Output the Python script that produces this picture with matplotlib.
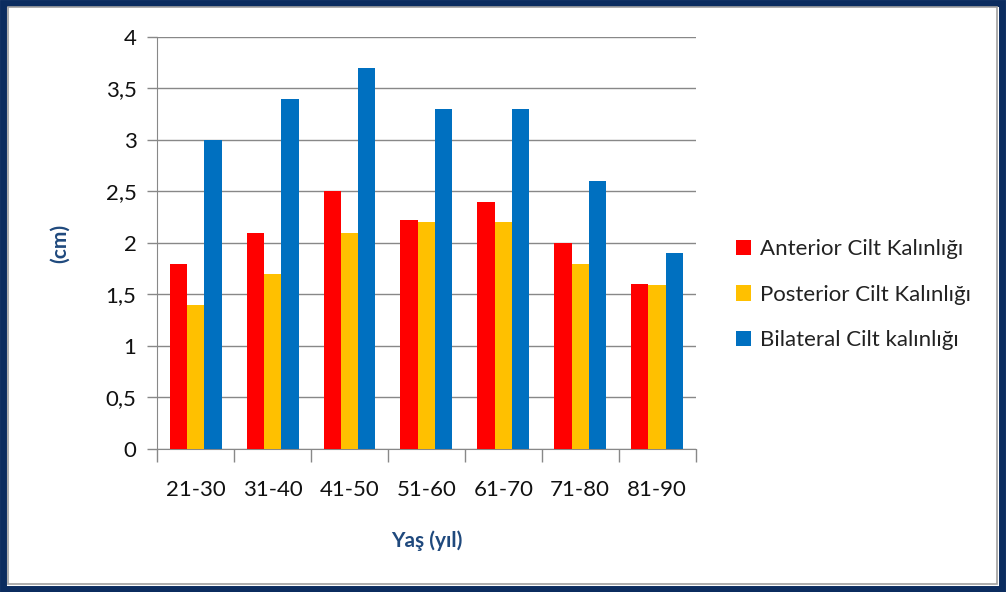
import numpy as np
import matplotlib.pyplot as plt
from matplotlib.patches import Rectangle

plt.rcParams['font.family'] = ['Lato', 'DejaVu Sans']

age_groups = ['21-30', '31-40', '41-50', '51-60', '61-70', '71-80', '81-90']
anterior = [1.8, 2.1, 2.5, 2.22, 2.4, 2.0, 1.6]
posterior = [1.4, 1.7, 2.1, 2.2, 2.2, 1.8, 1.59]
bilateral = [3.0, 3.4, 3.7, 3.3, 3.3, 2.6, 1.9]
series_names = ['Anterior Cilt Kalınlığı', 'Posterior Cilt Kalınlığı', 'Bilateral Cilt kalınlığı']
y_ticks = [0, 0.5, 1, 1.5, 2, 2.5, 3, 3.5, 4]
y_tick_labels = ['0', '0,5', '1', '1,5', '2', '2,5', '3', '3,5', '4']

colors = ['#FF0000', '#FFC000', '#0070C0']
navy = '#1F497D'

fig = plt.figure(figsize=(10.08, 5.92), dpi=100)
ax = fig.add_axes([0.156, 0.2416, 0.534, 0.696])

x = np.arange(len(age_groups))
w = 0.225
for i, (vals, name) in enumerate(zip([anterior, posterior, bilateral], series_names)):
    ax.bar(x + (i - 1) * w, vals, width=w, color=colors[i], label=name, zorder=3)

ax.set_xlim(-0.5, len(age_groups) - 0.5)
ax.set_ylim(0, 4)
ax.set_yticks(y_ticks)
ax.set_yticklabels(y_tick_labels)
ax.set_xticks(x)
ax.set_xticklabels(age_groups)
ax.set_xticks(np.arange(-0.5, len(age_groups)), minor=True)
ax.tick_params(axis='x', which='major', length=0, pad=22, labelsize=16, labelcolor='#111111')
ax.tick_params(axis='x', which='minor', length=9, color='#888888', width=1)
ax.tick_params(axis='y', length=7, color='#888888', width=1, pad=8, labelsize=16, labelcolor='#111111')

ax.grid(axis='y', color='#888888', linewidth=1, zorder=0)
for s in ['top', 'right']:
    ax.spines[s].set_visible(False)
for s in ['left', 'bottom']:
    ax.spines[s].set_color('#888888')

ax.set_ylabel('(cm)', color=navy, fontsize=15, fontweight='bold', labelpad=26)
ax.set_xlabel('Yaş (yıl)', color=navy, fontsize=15, fontweight='bold', labelpad=22)

fig.legend(loc='center left', bbox_to_anchor=(0.71, 0.502), frameon=False,
           fontsize=16, handlelength=0.7, handleheight=0.7, handletextpad=0.4,
           labelspacing=1.15, labelcolor='#222222')

# outer frame
fig.patches.append(Rectangle((0.003, 0.005), 0.991, 0.99, transform=fig.transFigure,
                             fill=False, edgecolor='#0B2C5F', linewidth=5))
fig.patches.append(Rectangle((0.008, 0.013), 0.981, 0.975, transform=fig.transFigure,
                             fill=False, edgecolor='#A0A0A0', linewidth=1.2))

fig.savefig('out.png', dpi=100)
